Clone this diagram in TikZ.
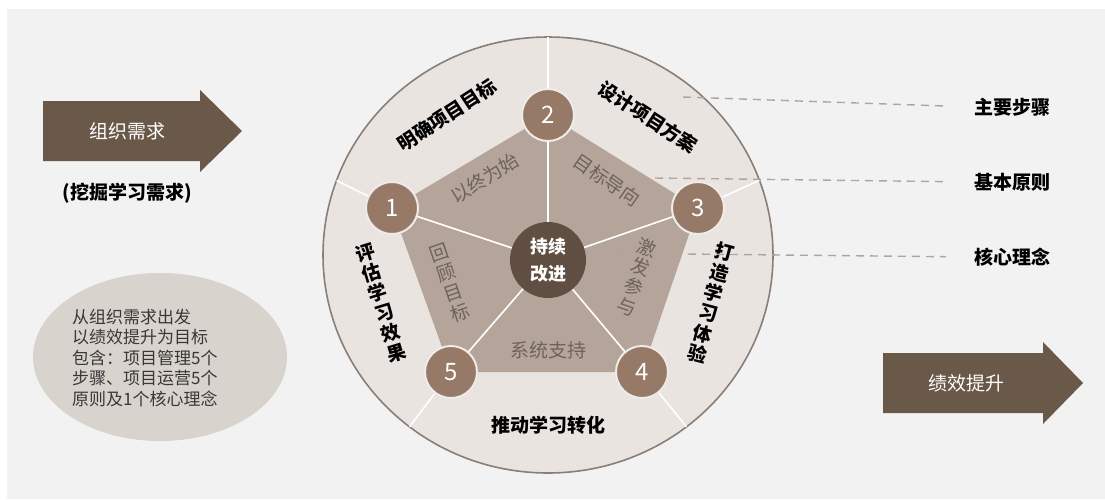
\documentclass[tikz,border=0pt]{standalone}
\usepackage{fontspec}
\setmainfont{Noto Sans CJK SC}
\usetikzlibrary{positioning}

\definecolor{panel}{HTML}{F2F2F2}
\definecolor{ringfill}{HTML}{E9E4E0}
\definecolor{ringline}{HTML}{8A7E77}
\definecolor{pentfill}{HTML}{B4A499}
\definecolor{numfill}{HTML}{977967}
\definecolor{corefill}{HTML}{604E43}
\definecolor{arrowfill}{HTML}{6A5849}
\definecolor{notefill}{HTML}{D9D3CE}
\definecolor{innertext}{HTML}{6E635B}
\definecolor{guideline}{HTML}{B0A59D}

\begin{document}
\begin{tikzpicture}[x=1pt, y=-1pt,
		num/.style={circle, minimum size=52pt, inner sep=0pt, fill=numfill, draw=white!85!numfill, line width=2pt, text=white, font=\fontsize{24}{24}\selectfont},
		core/.style={circle, minimum size=76pt, inner sep=0pt, fill=corefill, text=white, align=center, font=\fontsize{18}{27}\selectfont\bfseries},
		ringtext/.style={inner sep=0pt, align=center, font=\fontsize{19}{21}\selectfont\bfseries},
		inner/.style={inner sep=0pt, align=center, text=innertext, font=\fontsize{19}{21}\selectfont},
		keyword/.style={inner sep=0pt, font=\fontsize{19}{21}\selectfont\bfseries},
		divider/.style={draw=white, line width=1.6pt},
		guide/.style={draw=guideline, line width=1.4pt, dash pattern=on 8pt off 6pt},
		]
		
		\useasboundingbox (0,0) rectangle (1105,499);
		\fill[panel] (7,9) rectangle (1105,499);
		
		% ring and pentagon
		\filldraw[fill=ringfill, draw=ringline, line width=1.6pt] (548,255) ellipse [x radius=225, y radius=218];
		
		\coordinate (s1) at (392,208);
		\coordinate (s2) at (548,115);
		\coordinate (s3) at (698,208);
		\coordinate (s4) at (642,372);
		\coordinate (s5) at (451,372);
		\fill[pentfill] (s1) -- (s2) -- (s3) -- (s4) -- (s5) -- cycle;
		
		\coordinate (r1) at ({548+225*cos(160)},{255-218*sin(160)});
		\coordinate (r2) at (548,37);
		\coordinate (r3) at ({548+225*cos(20)},{255-218*sin(20)});
		\coordinate (r4) at ({548+225*cos(308)},{255-218*sin(308)});
		\coordinate (r5) at ({548+225*cos(232)},{255-218*sin(232)});
		
		\node[core] (core) at (548,260) {持续\\改进};
		
		\foreach \i in {1,...,5}
		\draw[divider] (core) -- (s\i) (s\i) -- (r\i);
		
		\node[num] (n1) at (s1) {1};
		\node[num] (n2) at (s2) {2};
		\node[num] (n3) at (s3) {3};
		\node[num] (n4) at (s4) {4};
		\node[num] (n5) at (s5) {5};
		
		% principles
		\node[inner, rotate=32] (p1) at (485,178) {以终为始};
		\node[inner, rotate=-35] (p2) at (607,180) {目标导向};
		\node[inner, rotate=-19] (p3) at (637,277) {激\\发\\参\\与};
		\node[inner] (p4) at (548,350) {系统支持};
		\node[inner, rotate=19] (p5) at (450,283) {回\\顾\\目\\标};
		
		% steps
		\node[ringtext, rotate=33] (o1) at (447,115) {明确项目目标};
		\node[ringtext, rotate=-33] (o2) at (648,117) {设计项目方案};
		\node[ringtext, rotate=-15] (o3) at (711,303) {打\\造\\学\\习\\体\\验};
		\node[ringtext] (o4) at (548,425) {推动学习转化};
		\node[ringtext, rotate=17] (o5) at (381,303) {评\\估\\学\\习\\效\\果};
		
		% legend
		\node[keyword] (steps) at (1012,107) {主要步骤};
		\node[keyword] (rules) at (1012,182) {基本原则};
		\node[keyword] (idea) at (1012,257) {核心理念};
		
		\coordinate (g1) at (683,97);
		\coordinate (g2) at (655,178);
		\coordinate (g3) at (590,253);
		\draw[guide, shorten >=28pt] (g1) -- (steps.west);
		\draw[guide, shorten >=28pt] (g2) -- (rules.west);
		\draw[guide, shorten >=28pt] (g3) -- (idea.west);
		
		% input and output
		\fill[arrowfill] (43,101) -- (200,101) -- (200,90) -- (242,131) -- (200,172) -- (200,161) -- (43,161) -- cycle;
		\node[text=white, font=\fontsize{19}{21}\selectfont] (need) at (127,131) {组织需求};
		\node[keyword, below=52pt of need.center] (dig) {(挖掘学习需求)};
		
		\fill[arrowfill] (883,353) -- (1043,353) -- (1043,342) -- (1083,383) -- (1043,424) -- (1043,413) -- (883,413) -- cycle;
		\node[text=white, font=\fontsize{19}{21}\selectfont] (gain) at (966,383) {绩效提升};
		
		% note
		\fill[notefill] (160,357) ellipse [x radius=127, y radius=84];
		\node[anchor=west, align=left, inner sep=0pt, text=black!78, font=\fontsize{17}{20.5}\selectfont] (note) at (72,358) {从组织需求出发\\以绩效提升为目标\\包含：项目管理5个\\步骤、项目运营5个\\原则及1个核心理念};
		
	\end{tikzpicture}
\end{document}
